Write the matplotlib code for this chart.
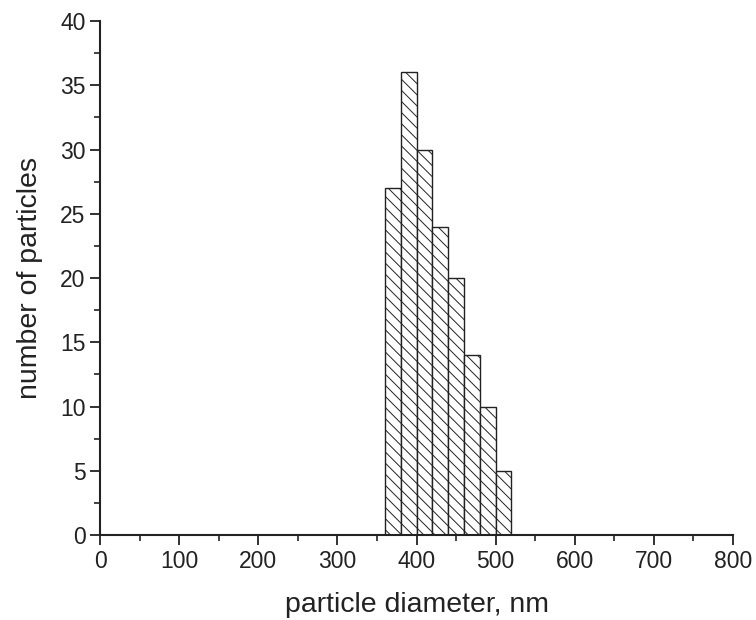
import numpy as np
import matplotlib.pyplot as plt
from matplotlib.ticker import MultipleLocator

plt.rcParams['font.family'] = ['Liberation Sans', 'DejaVu Sans']
plt.rcParams['hatch.color'] = '#707070'
plt.rcParams['hatch.linewidth'] = 0.7

# histogram bins (nm) and counts
bin_left = [360, 380, 400, 420, 440, 460, 480, 500]
bin_width = 20
counts = [27, 36, 30, 24, 20, 14, 10, 5]


def plot_histogram(left, width, heights, file_name):
    fig = plt.figure(figsize=(7.56, 6.2), dpi=100)
    ax = fig.add_axes([0.1323, 0.1371, 0.8373, 0.8290])
    ax.bar(left, heights, width=width, align='edge', color='white',
           edgecolor='#222222', linewidth=1.0, hatch='\\\\\\')
    ax.set_xlim(0, 800)
    ax.set_ylim(0, 40)
    ax.xaxis.set_major_locator(MultipleLocator(100))
    ax.xaxis.set_minor_locator(MultipleLocator(50))
    ax.yaxis.set_major_locator(MultipleLocator(5))
    ax.yaxis.set_minor_locator(MultipleLocator(2.5))
    ax.spines['top'].set_visible(False)
    ax.spines['right'].set_visible(False)
    for s in ['left', 'bottom']:
        ax.spines[s].set_linewidth(1.5)
        ax.spines[s].set_color('#222222')
    ax.tick_params(which='major', direction='out', length=7, width=1.3,
                   labelsize=16.5, colors='#222222')
    ax.tick_params(which='minor', direction='out', length=4, width=1.2,
                   colors='#222222')
    ax.set_xlabel('particle diameter, nm', fontsize=20.5, labelpad=14,
                  color='#222222')
    ax.set_ylabel('number of particles', fontsize=20.5, labelpad=12,
                  color='#222222')
    fig.savefig(file_name)


plot_histogram(bin_left, bin_width, counts, 'out.png')
